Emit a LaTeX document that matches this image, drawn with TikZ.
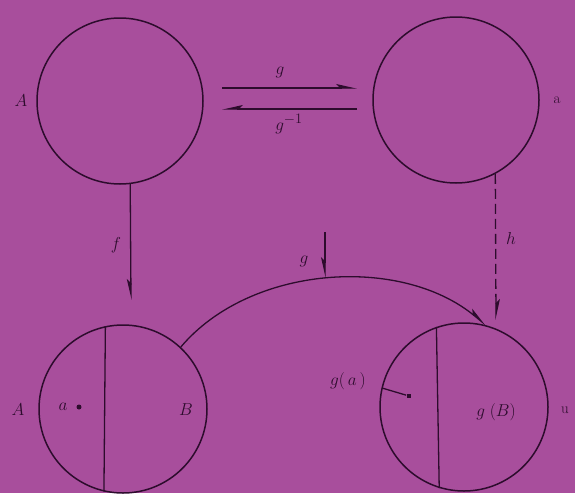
\documentclass[tikz,border=0pt]{standalone}
\usetikzlibrary{arrows.meta,shapes.geometric}
\definecolor{bg}{RGB}{168,78,156}
\definecolor{ink}{RGB}{45,12,45}
\begin{document}
\begin{tikzpicture}[x=1pt,y=-1pt,line width=1.3pt,draw=ink,
  setc/.style={draw=ink,circle,inner sep=0pt,minimum size=166pt,line width=1.5pt},
  lbl/.style={font=\fontsize{19}{22}\selectfont,text=ink,inner sep=1pt},
  slbl/.style={font=\fontsize{15}{18}\selectfont,text=ink,inner sep=1pt},
  harp/.style={-{Stealth[harpoon,length=18pt,width=8pt,inset=4pt]}},
  harps/.style={-{Stealth[harpoon,swap,length=18pt,width=8pt,inset=4pt]}},
  dotn/.style={circle,fill=ink,inner sep=0pt,minimum size=5pt}]
\fill[bg] (0,0) rectangle (575,493);
\useasboundingbox (0,0) rectangle (575,493);

% sets
\node[setc] (TL) at (120,101) {};
\node[setc] (TR) at (456,100) {};
\node[setc,minimum size=168pt] (BL) at (123,409) {};
\node[setc,minimum size=168pt] (BR) at (464,407) {};

% dividing lines
\draw (BL.102.4) -- (BL.257.6);
\draw (BR.109.5) -- (BR.253.7);

% g and g^{-1} between top sets
\coordinate (g1s) at (222,88);
\coordinate (g1e) at (357,88);
\coordinate (g2s) at (357,109);
\coordinate (g2e) at (222,109);
\draw[harp] (g1s) -- (g1e);
\draw[harps] (g2s) -- (g2e);
\node[lbl] (lg1) at (280,72) {$g$};
\node[lbl] (lg2) at (289,124) {$g^{-1}$};

% f
\coordinate (fend) at (131,300);
\draw[harps] (TL.277.6) -- (fend);
\node[lbl] (lf) at (116,245) {$f$};

% h dashed
\coordinate (hend) at (496,320);
\draw[harp,dash pattern=on 10pt off 5pt] (TR.298.8) -- (hend);
\node[lbl] (lh) at (511,238) {$h$};

% curved g
\draw[harp] (BL.47) .. controls (250,265) and (400,255) .. (BR.75);
\coordinate (gt) at (325,232);
\coordinate (gb) at (325,278);
\draw[harps] (gt) -- (gb);
\node[lbl] (lg3) at (304,261) {$g$};

% labels
\node[lbl] (lA1) at (21,101) {$A$};
\node[slbl] (la1) at (557,100) {a};
\node[lbl] (lA2) at (18,410) {$A$};
\node[lbl] (la2) at (63,407) {$a$};
\node[dotn] (adot) at (79,407) {};
\node[lbl] (lB) at (186,410) {$B$};
\node[lbl] (lga) at (348,381) {$g(\,a\,)$};
\node[dotn,rectangle,minimum size=4.5pt] (gadot) at (409,396) {};
\coordinate (gap) at (382,388);
\draw (gap) -- (gadot);
\node[lbl] (lgB) at (496,412) {$g\;(B)$};
\node[slbl] (lu) at (565,410) {u};
\end{tikzpicture}
\end{document}
